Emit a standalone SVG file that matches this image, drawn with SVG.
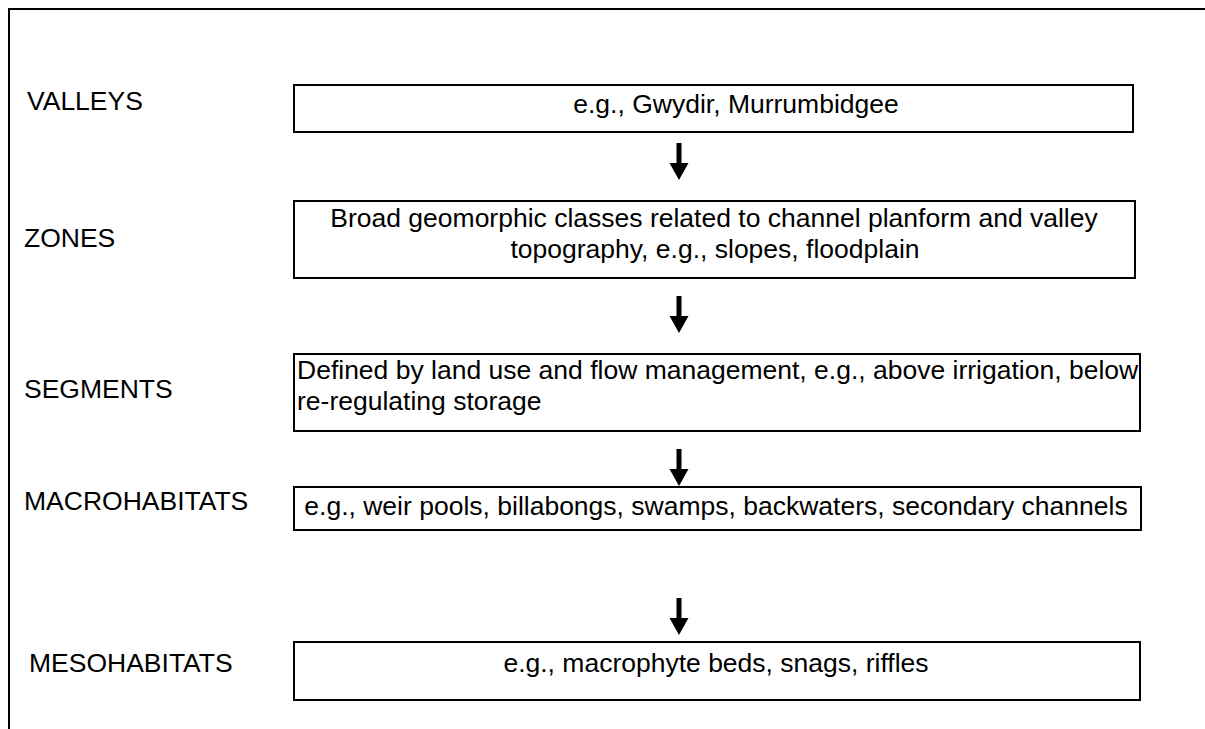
<svg xmlns="http://www.w3.org/2000/svg" width="1205" height="729" viewBox="0 0 1205 729">
<style>
.lbl{font-family:"Liberation Sans",Arial,sans-serif;font-size:26.5px;fill:#000}
.txt{font-family:"Liberation Sans",Arial,sans-serif;font-size:26.5px;fill:#000}
.c{text-anchor:middle}
.box{fill:#fff;stroke:#000;stroke-width:2}
.frame{fill:none;stroke:#000;stroke-width:2}
.arr{fill:#000}
</style>
<defs>
<path id="arrow" class="arr" d="M-2.5,0 H2.5 V20 H9.5 L0,37 L-9.5,20 H-2.5 Z"/>
</defs>
<rect width="1205" height="729" fill="#fff"/>
<path class="frame" d="M9,729 V9 H1205"/>
<g id="valleys">
<text class="lbl" x="27" y="110">VALLEYS</text>
<rect class="box" x="294" y="85" width="839" height="47"/>
<text class="txt c" x="736" y="113">e.g., Gwydir, Murrumbidgee</text>
</g>
<g id="zones">
<text class="lbl" x="24" y="247">ZONES</text>
<rect class="box" x="294" y="201" width="841" height="77"/>
<text class="txt c" x="714" y="227">Broad geomorphic classes related to channel planform and valley</text>
<text class="txt c" x="715" y="258">topography, e.g., slopes, floodplain</text>
</g>
<g id="segments">
<text class="lbl" x="24" y="398">SEGMENTS</text>
<rect class="box" x="294" y="354" width="846" height="77"/>
<text class="txt" x="297" y="379">Defined by land use and flow management, e.g., above irrigation, below</text>
<text class="txt" x="297" y="410">re-regulating storage</text>
</g>
<g id="macrohabitats">
<text class="lbl" x="24" y="510">MACROHABITATS</text>
<rect class="box" x="294" y="487" width="847" height="43"/>
<text class="txt c" x="716" y="515">e.g., weir pools, billabongs, swamps, backwaters, secondary channels</text>
</g>
<g id="mesohabitats">
<text class="lbl" x="29" y="672">MESOHABITATS</text>
<rect class="box" x="294" y="642" width="846" height="58"/>
<text class="txt c" x="716" y="672">e.g., macrophyte beds, snags, riffles</text>
</g>
<g id="connectors">
<use href="#arrow" x="679" y="143"/>
<use href="#arrow" x="679" y="296"/>
<use href="#arrow" x="679" y="449"/>
<use href="#arrow" x="679" y="598"/>
</g>
</svg>
